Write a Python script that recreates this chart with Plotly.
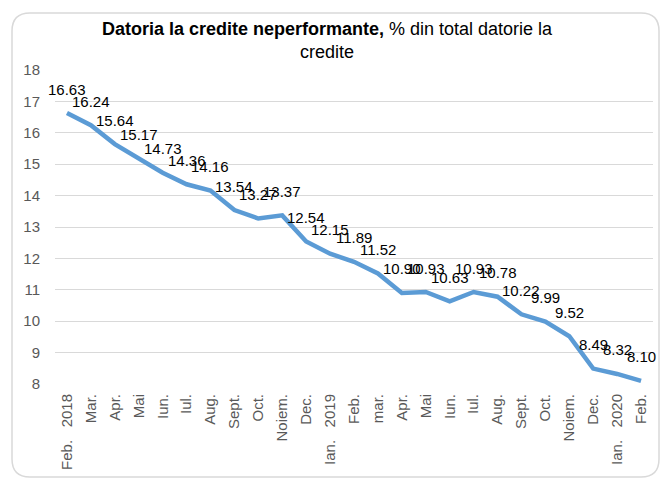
import plotly.graph_objects as go

months = ["Feb.   2018", "Mar.", "Apr.", "Mai", "Iun.", "Iul.", "Aug.", "Sept.", "Oct.", "Noiem.",
          "Dec.", "Ian.   2019", "Feb.", "mar.", "Apr.", "Mai", "Iun.", "Iul.", "Aug.", "Sept.",
          "Oct.", "Noiem.", "Dec.", "Ian.   2020", "Feb."]
npl_share = [16.63, 16.24, 15.64, 15.17, 14.73, 14.36, 14.16, 13.54, 13.27, 13.37,
             12.54, 12.15, 11.89, 11.52, 10.90, 10.93, 10.63, 10.93, 10.78, 10.22,
             9.99, 9.52, 8.49, 8.32, 8.10]
y_ticks = list(range(8, 19))

W, H = 662, 479
L, R, T, B = 55, 9, 70, 95
pw, ph = W - L - R, H - T - B

def px(x):
    return (x - L) / pw

def py(y):
    return (H - B - y) / ph

FONT = "Liberation Sans, Arial, sans-serif"
xs = list(range(len(months)))
labels = [m.replace("   ", "\u00a0\u00a0\u00a0") for m in months]

fig = go.Figure()
fig.add_trace(go.Scatter(
    x=xs, y=npl_share, mode="lines",
    line=dict(color="#5B9BD5", width=4.5),
    hoverinfo="skip", showlegend=False,
))

for xi, v in zip(xs, npl_share):
    fig.add_annotation(x=xi, y=v, text=f"{v:.2f}", showarrow=False,
                       yshift=24, font=dict(family=FONT, size=15, color="#000000"))

x0, x1, y0, y1, r = 12, 659, 13, 477, 18
path = (f"M {px(x0+r)},{py(y0)} L {px(x1-r)},{py(y0)} Q {px(x1)},{py(y0)} {px(x1)},{py(y0+r)} "
        f"L {px(x1)},{py(y1-r)} Q {px(x1)},{py(y1)} {px(x1-r)},{py(y1)} "
        f"L {px(x0+r)},{py(y1)} Q {px(x0)},{py(y1)} {px(x0)},{py(y1-r)} "
        f"L {px(x0)},{py(y0+r)} Q {px(x0)},{py(y0)} {px(x0+r)},{py(y0)} Z")
fig.add_shape(type="path", path=path, xref="paper", yref="paper",
              line=dict(color="#D9D9D9", width=1.5), layer="below")

fig.update_layout(
    width=W, height=H,
    margin=dict(l=L, r=R, t=T, b=B, autoexpand=False),
    paper_bgcolor="white", plot_bgcolor="white",
    font=dict(family=FONT, color="#595959"),
    title=dict(
        text="<b>Datoria la credite neperformante,</b> % din total datorie la<br>credite",
        x=327 / W, xanchor="center", xref="container",
        y=1 - 35 / H, yanchor="top", yref="container",
        font=dict(family=FONT, size=18, color="#000000"),
    ),
    showlegend=False,
)
fig.update_xaxes(
    range=[-0.5, len(months) - 0.5], automargin=False,
    tickmode="array", tickvals=xs, ticktext=labels,
    tickangle=-90, showgrid=False, zeroline=False,
    showline=False, ticks="", ticklabelstandoff=6,
    tickfont=dict(family=FONT, size=15, color="#595959"),
)
fig.update_yaxes(
    range=[8, 18], tickmode="array", tickvals=y_ticks, automargin=False,
    showgrid=True, gridcolor="#D9D9D9", gridwidth=1.2,
    zeroline=False, showline=False, ticks="", ticklabelstandoff=14,
    tickfont=dict(family=FONT, size=15, color="#595959"),
)

fig.write_html("out.html", config={"displayModeBar": False},
               post_script="document.body.style.margin='0';document.body.style.overflow='hidden';")
